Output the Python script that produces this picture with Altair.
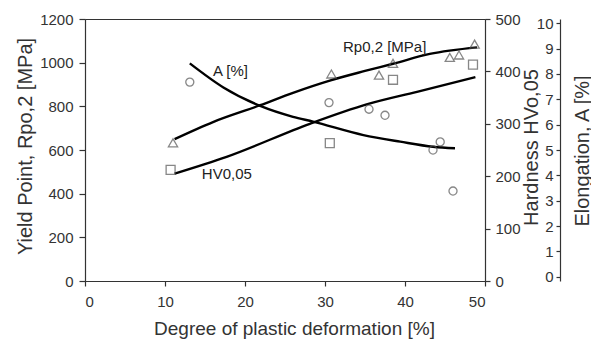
import altair as alt
import pandas as pd

# Rp0,2 [MPa] (left axis)
rp_x = [11.0, 30.8, 36.75, 38.5, 45.6, 46.75, 48.7]
rp_y = [633, 948, 943, 997, 1024, 1035, 1085]
rp_fit_x = [11.2, 16.0, 21.9, 26.0, 30.6, 35.0, 38.5, 43.1, 49.0]
rp_fit_y = [650, 728, 805, 862, 918, 962, 995, 1040, 1070]

# HV0,05 (hardness axis)
hv_x = [10.7, 30.6, 38.5, 48.5]
hv_y = [212, 263, 384, 413]
hv_fit_x = [11.2, 17.7, 28.1, 35.2, 41.5, 48.8]
hv_fit_y = [205, 237, 300, 337, 361, 389]

# A [%] (elongation axis)
a_x = [13.1, 30.5, 35.5, 37.5, 43.5, 44.4, 46.0]
a_y = [7.68, 6.87, 6.61, 6.37, 5.00, 5.32, 3.38]
a_fit_x = [13.1, 17.3, 21.9, 26.0, 28.5, 34.8, 39.4, 43.5, 46.25]
a_fit_y = [8.42, 7.47, 6.74, 6.31, 6.12, 5.59, 5.33, 5.13, 5.07]

# in-plot labels (placed in MPa units)
lbl_text = ["A [%]", "Rp0,2 [MPa]", "HV0,05"]
lbl_x = [16.0, 32.25, 14.6]
lbl_y = [963, 1073, 490]

x_ticks = [0, 10, 20, 30, 40, 50]
rp_ticks = [0, 200, 400, 600, 800, 1000, 1200]
hv_ticks = [0, 100, 200, 300, 400, 500]
a_ticks = list(range(11))

FONT = "Liberation Sans"
INK = "#333333"
MARK = "#555555"

x_enc = alt.X(
    "x:Q",
    scale=alt.Scale(domain=[0, 50], nice=False, zero=False),
    axis=alt.Axis(values=x_ticks, title="Degree of plastic deformation [%]", format="d",
                  tickSize=5, labelPadding=8, titleX=209, titleY=47,
                  titleBaseline="middle", titleFontSize=19),
)

rp_enc = alt.Y(
    "y:Q",
    scale=alt.Scale(domain=[0, 1200], nice=False),
    axis=alt.Axis(values=rp_ticks, title="Yield Point, Rpo,2 [MPa]", orient="left", format="d",
                  tickSize=6, labelPadding=6, titleX=-60, titleY=127, titleAngle=270,
                  titleAlign="center", titleBaseline="middle", titleFontSize=20),
)
hv_enc = alt.Y(
    "y:Q",
    scale=alt.Scale(domain=[0, 500], nice=False),
    axis=alt.Axis(values=hv_ticks, title="Hardness HVo,05", orient="right", format="d",
                  tickSize=5, labelPadding=5, titleX=46, titleY=128, titleAngle=270,
                  titleAlign="center", titleBaseline="middle", titleFontSize=20),
)
a_enc = alt.Y(
    "y:Q",
    scale=alt.Scale(domain=[-0.17, 10.17], nice=False, zero=False),
    axis=alt.Axis(values=a_ticks, title="Elongation, A [%]", orient="left", offset=-475,
                  format="d",
                  tickSize=4, labelPadding=3, titleX=22, titleY=131.5, titleAngle=270,
                  titleAlign="center", titleBaseline="middle", titleFontSize=20),
)

rp_pts = pd.DataFrame({"x": rp_x, "y": rp_y})
rp_fit = pd.DataFrame({"x": rp_fit_x, "y": rp_fit_y})
hv_pts = pd.DataFrame({"x": hv_x, "y": hv_y})
hv_fit = pd.DataFrame({"x": hv_fit_x, "y": hv_fit_y})
a_pts = pd.DataFrame({"x": a_x, "y": a_y})
a_fit = pd.DataFrame({"x": a_fit_x, "y": a_fit_y})
lbl = pd.DataFrame({"x": lbl_x, "y": lbl_y, "t": lbl_text})


def line(df, yenc):
    return alt.Chart(df).mark_line(color="black", strokeWidth=2.4,
                                   interpolate="monotone").encode(x=x_enc, y=yenc)


def pts(df, yenc, shape, size):
    return alt.Chart(df).mark_point(shape=shape, size=size, filled=False,
                                    color=MARK, strokeWidth=1.3).encode(x=x_enc, y=yenc)


texts = alt.Chart(lbl).mark_text(align="left", baseline="middle", font=FONT,
                                 fontSize=15, color="#222222").encode(
    x=x_enc, y=rp_enc, text="t:N")

rp_group = alt.layer(line(rp_fit, rp_enc), pts(rp_pts, rp_enc, "triangle-up", 85), texts)
hv_group = alt.layer(line(hv_fit, hv_enc), pts(hv_pts, hv_enc, "square", 80))
a_group = alt.layer(line(a_fit, a_enc), pts(a_pts, a_enc, "circle", 65))

chart = (
    alt.layer(rp_group, hv_group, a_group)
    .resolve_scale(y="independent")
    .properties(
        width=400, height=262,
        autosize=alt.AutoSizeParams(type="none"),
        padding={"left": 77, "top": 11, "right": 106, "bottom": 62},
        background="white",
    )
    .configure_view(stroke=INK, strokeWidth=1)
    .configure_axis(
        grid=False, domainColor=INK, tickColor=INK, labelColor=INK, titleColor=INK,
        labelFont=FONT, titleFont=FONT, labelFontSize=15, titleFontWeight="normal",
        domainWidth=1.2, tickWidth=1.2,
    )
)

chart.save("out.html", embed_options={"renderer": "svg", "actions": False})
